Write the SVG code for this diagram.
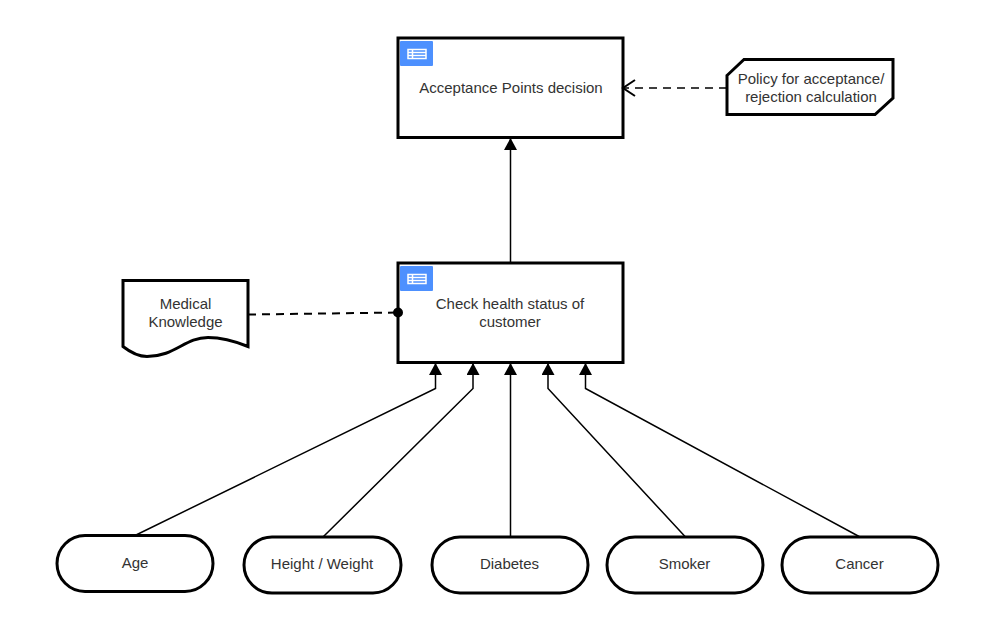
<svg xmlns="http://www.w3.org/2000/svg" width="989" height="623" viewBox="0 0 989 623">
<style>
text{font-family:"Liberation Sans",Arial,sans-serif;font-size:15px;fill:#333;text-anchor:middle}
.n{fill:#fff;stroke:#000;stroke-width:3}
.box{fill:#fff;stroke:#000;stroke-width:3}
.c{fill:none;stroke:#000;stroke-width:1.5}
.d{fill:none;stroke:#000;stroke-width:1.5;stroke-dasharray:8 6}
.badge{fill:#4d90fe}
.ic{fill:none;stroke:#fff;stroke-width:1.5}
</style>
<defs>
<marker id="tri" markerUnits="userSpaceOnUse" markerWidth="14" markerHeight="14" refX="12" refY="6.5" orient="auto"><path d="M0 0L12 6.500L0 13Z" fill="#000"/></marker>
<marker id="open" markerUnits="userSpaceOnUse" markerWidth="16" markerHeight="20" refX="13" refY="9" orient="auto"><path d="M1 1L13 9L1 17" fill="none" stroke="#000" stroke-width="2"/></marker>
<marker id="dot" markerUnits="userSpaceOnUse" markerWidth="12" markerHeight="12" refX="6" refY="6" orient="auto"><circle cx="6" cy="6" r="5" fill="#000"/></marker>
<g id="ti"><rect x="0" y="0" width="33" height="25" rx="1" class="badge"/><rect x="8" y="8.500" width="18" height="9" class="ic"/><path d="M8 11.500H26M8 14.500H26M12.500 8.500V17.500" class="ic" stroke-width="1"/></g>
</defs>
<g id="n1"><rect class="box" x="398" y="38" width="225" height="99.500"/><use href="#ti" x="400" y="41"/><text x="511" y="93">Acceptance Points decision</text></g>
<g id="n2"><path class="n" d="M727 75.500L744 59.500H893V98L875 114.500H727Z"/><text x="811" y="84">Policy for acceptance/</text><text x="811" y="102">rejection calculation</text></g>
<g id="n3"><rect class="box" x="398" y="263" width="225" height="99.500"/><use href="#ti" x="400" y="266"/><text x="510" y="309">Check health status of</text><text x="510" y="327">customer</text></g>
<g id="n4"><path class="n" d="M123 280.500H248V346.500C232 340 220 337.500 208 337.500C185 337.500 175 356.500 147 356.500C138 356.500 130 352 123 346.500Z"/><text x="185.500" y="309">Medical</text><text x="185.500" y="327">Knowledge</text></g>
<g id="n5"><rect class="n" x="57" y="535.500" width="156" height="56" rx="28" ry="28"/><text x="135" y="568">Age</text></g>
<g id="n6"><rect class="n" x="244" y="537" width="157" height="56" rx="28" ry="28"/><text x="322" y="569">Height / Weight</text></g>
<g id="n7"><rect class="n" x="432" y="537" width="156" height="56" rx="28" ry="28"/><text x="509.500" y="569">Diabetes</text></g>
<g id="n8"><rect class="n" x="607" y="537" width="156" height="56" rx="28" ry="28"/><text x="684.500" y="569">Smoker</text></g>
<g id="n9"><rect class="n" x="782" y="537" width="156" height="56" rx="28" ry="28"/><text x="859.500" y="569">Cancer</text></g>
<g id="connectors">
<path class="c" d="M510.500 263V138" marker-end="url(#tri)"/>
<path class="d" d="M727 88H623" marker-end="url(#open)"/>
<path class="d" d="M248 314.500L398 312.500" marker-end="url(#dot)" style="stroke-width:2"/>
<path class="c" d="M135 535.500L435.500 388.500V363" marker-end="url(#tri)"/>
<path class="c" d="M323 537L473 388.500V363" marker-end="url(#tri)"/>
<path class="c" d="M510.500 537V363" marker-end="url(#tri)"/>
<path class="c" d="M685.500 537L548 388.500V363" marker-end="url(#tri)"/>
<path class="c" d="M860 537L585.500 388.500V363" marker-end="url(#tri)"/>
</g>
</svg>
